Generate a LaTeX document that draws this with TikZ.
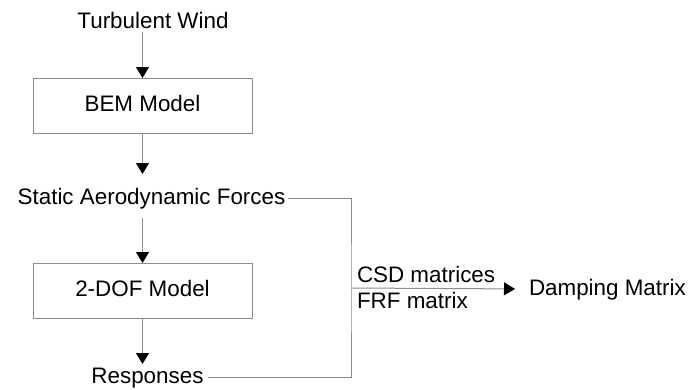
\documentclass[tikz,border=0pt]{standalone}
\usepackage{fontspec}
\setmainfont{Liberation Sans}
\usepackage{tikz}
\usetikzlibrary{positioning, calc, arrows.meta}
\definecolor{linegray}{RGB}{140,140,140}

\begin{document}
\begin{tikzpicture}[x=1pt, y=-1pt,
		every node/.style={font=\fontsize{22.4}{26}\selectfont, inner sep=0pt, outer sep=0pt, text height=16pt, text depth=4pt},
		block/.style={draw=linegray, line width=1pt, minimum width=219pt, minimum height=55pt},
		conn/.style={draw=linegray, line width=1pt},
		arr/.style={conn, -{Triangle[width=13pt, length=11pt, black]}}]
		\useasboundingbox (0,0) rectangle (689,389);
		\pgfmathsetmacro{\colx}{142.5}
		
		\node[anchor=base] (wind) at (153,28) {Turbulent Wind};
		\node[block] (bem) at (\colx,105.5) {BEM Model};
		\node[anchor=base] (saf) at (151.5,204) {Static Aerodynamic Forces};
		\node[block] (dof) at (\colx,290.5) {2-DOF Model};
		\node[anchor=base] (resp) at (147.5,383) {Responses};
		
		\coordinate (jn) at (351,288);
		\node[anchor=base west] (csd) at ($(jn)+(6,-6)$) {CSD matrices};
		\node[anchor=base west] (frf) at ($(jn)+(6,20)$) {FRF matrix};
		\node[anchor=base west] (dmp) at (529,295) {Damping Matrix};
		
		\draw[arr] (wind.south -| bem.north) -- (bem.north);
		\draw[arr, shorten >=14pt] (bem.south) -- (saf.north -| bem.south);
		\draw[arr, shorten <=10pt] (saf.south -| dof.north) -- (dof.north);
		\draw[arr, shorten >=3pt] (dof.south) -- (resp.north -| dof.south);
		
		\draw[conn, shorten <=3pt, shorten >=4pt] (saf.east) -| (jn) |- (resp.east);
		\draw[arr, shorten >=14pt] (jn) -- (dmp.west);
		\end{tikzpicture}
\end{document}
